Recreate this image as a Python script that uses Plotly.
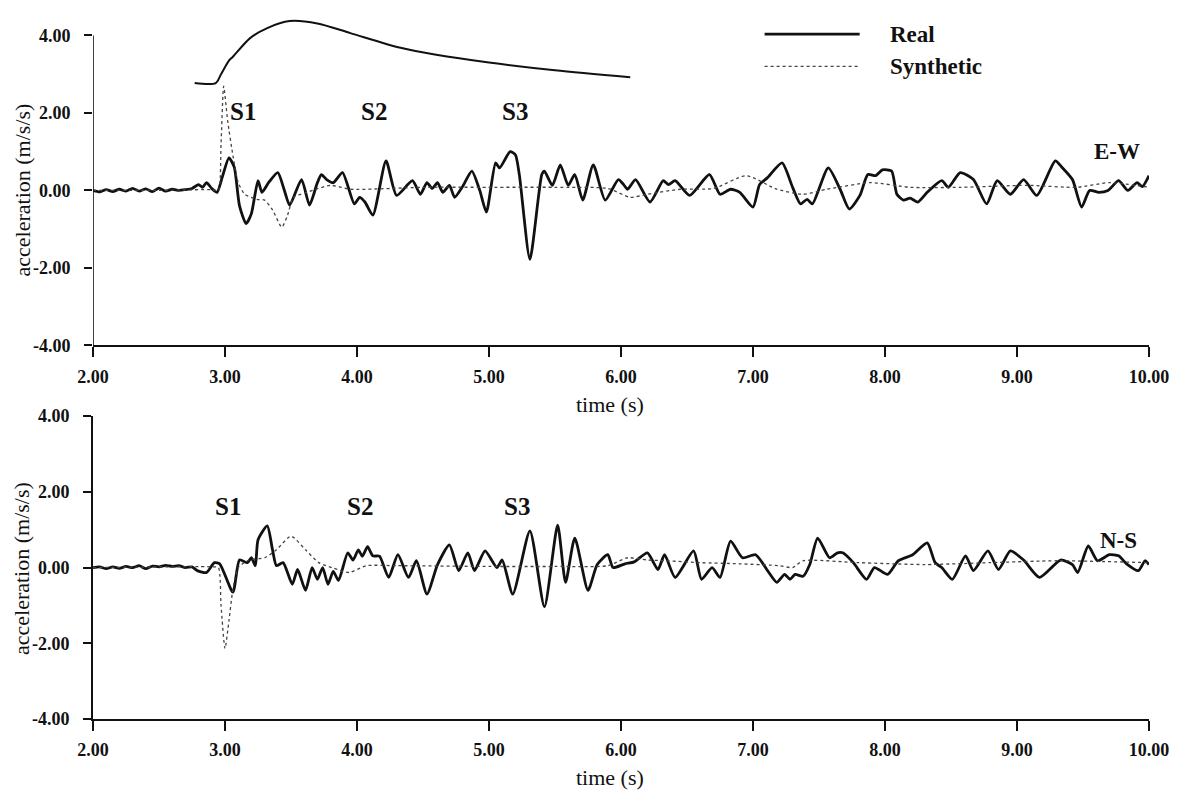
import plotly.graph_objects as go
from plotly.subplots import make_subplots

# ---- E-W component -------------------------------------------------------
ew_real_t = [2.00, 2.05, 2.10, 2.15, 2.20, 2.25, 2.30, 2.35, 2.40, 2.45, 2.50, 2.55,
             2.60, 2.65, 2.70, 2.75, 2.80, 2.83, 2.86, 2.90, 2.94, 2.98, 3.03, 3.07,
             3.11, 3.16, 3.20, 3.25, 3.28, 3.33, 3.40, 3.45, 3.49, 3.58, 3.64, 3.70,
             3.73, 3.77, 3.82, 3.89, 3.98, 4.02, 4.06, 4.12, 4.22, 4.30, 4.42, 4.48,
             4.53, 4.57, 4.61, 4.65, 4.70, 4.74, 4.80, 4.87, 4.93, 4.98, 5.05, 5.08,
             5.16, 5.20, 5.23, 5.31, 5.40, 5.42, 5.48, 5.54, 5.60, 5.65, 5.71, 5.79,
             5.88, 5.98, 6.02, 6.05, 6.11, 6.22, 6.32, 6.36, 6.41, 6.52, 6.67, 6.75,
             6.83, 6.90, 7.00, 7.05, 7.11, 7.22, 7.30, 7.36, 7.41, 7.45, 7.57, 7.66,
             7.73, 7.81, 7.87, 7.93, 7.98, 8.05, 8.09, 8.14, 8.19, 8.25, 8.32, 8.43,
             8.48, 8.57, 8.67, 8.77, 8.85, 8.95, 9.05, 9.15, 9.29, 9.34, 9.42, 9.49,
             9.55, 9.62, 9.69, 9.77, 9.84, 9.91, 9.95, 10.00]
ew_real_v = [0.00, -0.04, 0.02, -0.03, 0.03, -0.02, 0.05, -0.02, 0.04, -0.03, 0.06, -0.02,
             0.03, 0.00, 0.02, 0.05, 0.15, 0.08, 0.20, 0.05, -0.05, 0.35, 0.84, 0.60,
             -0.40, -0.86, -0.60, 0.25, -0.05, 0.20, 0.46, 0.00, -0.38, 0.28, -0.38, 0.20,
             0.41, 0.28, 0.20, 0.46, -0.35, -0.18, -0.30, -0.64, 0.76, -0.13, 0.25, -0.10,
             0.20, 0.05, 0.20, -0.05, 0.13, -0.18, 0.10, 0.50, 0.00, -0.56, 0.71, 0.58,
             1.00, 0.92, 0.40, -1.78, 0.41, 0.50, 0.13, 0.66, 0.13, 0.41, -0.25, 0.66,
             -0.25, 0.28, 0.15, 0.03, 0.28, -0.30, 0.25, 0.15, 0.25, -0.13, 0.41, -0.10,
             0.03, -0.05, -0.43, 0.15, 0.33, 0.71, 0.08, -0.35, -0.23, -0.35, 0.58, 0.03,
             -0.48, -0.13, 0.41, 0.38, 0.53, 0.50, -0.10, -0.25, -0.20, -0.30, -0.05, 0.25,
             0.08, 0.46, 0.28, -0.35, 0.25, -0.10, 0.28, -0.13, 0.76, 0.60, 0.28, -0.43,
             0.00, -0.05, 0.00, 0.25, 0.00, 0.20, 0.10, 0.38]

ew_syn_t = [2.00, 2.50, 2.90, 2.95, 2.97, 2.99, 3.02, 3.06, 3.10, 3.15, 3.24, 3.30,
            3.36, 3.43, 3.47, 3.52, 3.62, 3.80, 3.95, 4.50, 5.00, 5.50, 5.90, 6.07,
            6.20, 6.45, 6.70, 6.95, 7.18, 7.38, 7.56, 7.89, 8.19, 8.57, 9.08, 9.45,
            9.70, 10.00]
ew_syn_v = [0.00, 0.00, 0.02, 0.00, 1.20, 2.69, 1.80, 0.90, 0.20, -0.10, -0.23, -0.25,
            -0.50, -0.95, -0.68, -0.18, -0.05, 0.13, 0.03, 0.08, 0.08, 0.08, 0.05, -0.18,
            -0.10, 0.03, 0.05, 0.38, 0.03, -0.10, 0.03, 0.20, 0.08, 0.08, 0.13, 0.08,
            0.20, 0.08]

# source time function drawn above the E-W traces (same time axis)
stf_t = [2.77, 2.93, 2.97, 3.03, 3.06, 3.19, 3.32, 3.49, 3.70, 3.95, 4.33, 4.60,
         5.00, 5.50, 6.07]
stf_v = [2.77, 2.77, 3.00, 3.35, 3.45, 3.93, 4.19, 4.37, 4.31, 4.06, 3.68, 3.50,
         3.30, 3.10, 2.92]

# ---- N-S component -------------------------------------------------------
ns_real_t = [2.00, 2.05, 2.10, 2.15, 2.20, 2.25, 2.30, 2.35, 2.40, 2.45, 2.50, 2.55,
             2.60, 2.65, 2.70, 2.75, 2.79, 2.86, 2.92, 2.96, 3.06, 3.11, 3.17, 3.20,
             3.23, 3.25, 3.32, 3.36, 3.39, 3.44, 3.51, 3.55, 3.61, 3.66, 3.70, 3.74,
             3.78, 3.82, 3.86, 3.93, 3.97, 4.01, 4.04, 4.08, 4.12, 4.17, 4.24, 4.31,
             4.39, 4.45, 4.53, 4.61, 4.70, 4.77, 4.84, 4.89, 4.97, 5.06, 5.10, 5.18,
             5.31, 5.42, 5.52, 5.58, 5.65, 5.75, 5.82, 5.90, 5.94, 6.03, 6.10, 6.20,
             6.28, 6.33, 6.41, 6.55, 6.61, 6.69, 6.75, 6.83, 6.92, 7.02, 7.11, 7.18,
             7.24, 7.28, 7.32, 7.38, 7.43, 7.49, 7.58, 7.64, 7.68, 7.76, 7.86, 7.92,
             8.02, 8.10, 8.21, 8.32, 8.38, 8.43, 8.51, 8.61, 8.67, 8.78, 8.86, 8.95,
             9.05, 9.17, 9.33, 9.42, 9.46, 9.54, 9.61, 9.70, 9.77, 9.83, 9.92, 9.97,
             10.00]
ns_real_v = [0.00, 0.02, -0.03, 0.02, -0.02, 0.03, 0.00, 0.05, -0.03, 0.04, 0.02, 0.06,
             0.03, 0.05, 0.00, 0.02, -0.08, -0.13, 0.13, 0.10, -0.65, 0.20, 0.13, 0.26,
             0.05, 0.73, 1.10, 0.47, 0.05, 0.13, -0.44, -0.05, -0.60, 0.00, -0.31, 0.00,
             -0.44, -0.10, -0.34, 0.39, 0.20, 0.47, 0.30, 0.55, 0.31, 0.30, -0.26, 0.34,
             -0.26, 0.18, -0.70, 0.08, 0.60, -0.08, 0.39, -0.08, 0.44, 0.00, 0.20, -0.70,
             0.97, -1.04, 1.12, -0.39, 0.78, -0.60, 0.08, 0.34, 0.00, 0.10, 0.15, 0.39,
             -0.05, 0.34, -0.26, 0.44, -0.31, 0.00, -0.26, 0.70, 0.26, 0.34, -0.08, -0.39,
             -0.18, -0.31, -0.18, -0.23, 0.08, 0.78, 0.26, 0.39, 0.39, 0.13, -0.31, 0.00,
             -0.18, 0.18, 0.34, 0.65, 0.13, 0.00, -0.31, 0.31, -0.08, 0.44, -0.05, 0.44,
             0.20, -0.26, 0.20, 0.08, -0.13, 0.57, 0.18, 0.34, 0.31, 0.10, -0.08, 0.18,
             0.08]

ns_syn_t = [2.00, 2.90, 2.95, 2.97, 3.00, 3.03, 3.06, 3.10, 3.18, 3.30, 3.39, 3.50,
            3.61, 3.71, 3.81, 3.94, 4.07, 4.30, 5.00, 5.50, 5.90, 6.05, 6.20, 6.35,
            6.60, 6.90, 7.20, 7.30, 7.38, 7.80, 8.30, 8.80, 9.30, 10.00]
ns_syn_v = [0.00, 0.02, 0.00, -1.00, -2.14, -1.40, -0.57, 0.00, 0.20, 0.26, 0.47, 0.83,
            0.47, 0.13, 0.00, -0.13, 0.05, 0.05, 0.03, 0.03, 0.05, 0.26, 0.20, 0.18,
            0.13, 0.10, 0.05, 0.00, 0.18, 0.13, 0.08, 0.13, 0.18, 0.13]

# ---- axes / labels -------------------------------------------------------
x_ticks = [2, 3, 4, 5, 6, 7, 8, 9, 10]
y_ticks = [-4, -2, 0, 2, 4]
phase_labels = ["S1", "S2", "S3"]
ew_phase_t = [3.14, 4.13, 5.20]
ns_phase_t = [3.02, 4.02, 5.21]
component_names = ["E-W", "N-S"]
series_names = ["Real", "Synthetic"]

SERIF = "Liberation Serif, Times New Roman, serif"
INK = "#111111"

fig = make_subplots(rows=2, cols=1, shared_xaxes=False, vertical_spacing=0.0)

real_line = dict(color=INK, width=2.8, shape="spline", smoothing=0.6)
syn_line = dict(color="#444444", width=1.3, dash="dot", shape="spline", smoothing=0.6)

fig.add_trace(go.Scatter(x=ew_real_t, y=ew_real_v, mode="lines", line=real_line,
                         name=series_names[0], showlegend=False), row=1, col=1)
fig.add_trace(go.Scatter(x=ew_syn_t, y=ew_syn_v, mode="lines", line=syn_line,
                         name=series_names[1], showlegend=False), row=1, col=1)
fig.add_trace(go.Scatter(x=stf_t, y=stf_v, mode="lines",
                         line=dict(color=INK, width=2.0, shape="spline", smoothing=0.8),
                         showlegend=False), row=1, col=1)
fig.add_trace(go.Scatter(x=ns_real_t, y=ns_real_v, mode="lines", line=real_line,
                         showlegend=False), row=2, col=1)
fig.add_trace(go.Scatter(x=ns_syn_t, y=ns_syn_v, mode="lines", line=syn_line,
                         showlegend=False), row=2, col=1)

# hyphen-minus labels with two decimals
x_tick_text = [f"{v:.2f}" for v in x_ticks]
y_tick_text = [f"{v:.2f}" for v in y_ticks]

tick_font = dict(family=SERIF, size=18, color=INK, weight="bold")
xaxis_style = dict(range=[2, 10], tickvals=x_ticks, ticktext=x_tick_text, ticks="outside",
                   ticklen=10, tickwidth=1.6, tickcolor=INK, showline=True, linewidth=1.6,
                   linecolor=INK, showgrid=False, zeroline=False, tickfont=tick_font,
                   ticklabelstandoff=4)
yaxis_style = dict(tickvals=y_ticks, ticktext=y_tick_text, ticks="outside", ticklen=8,
                   tickwidth=1.6, tickcolor=INK, linewidth=1.6, linecolor=INK,
                   showgrid=False, zeroline=False, tickfont=tick_font,
                   ticklabelstandoff=10)

fig.update_layout(
    xaxis=dict(**xaxis_style, domain=[0, 1], anchor="y"),
    yaxis=dict(**yaxis_style, range=[-4, 4.45], showline=False, domain=[0.533, 1.0]),
    xaxis2=dict(**xaxis_style, domain=[0, 1], anchor="y2"),
    yaxis2=dict(**yaxis_style, range=[-4, 4], showline=True, domain=[0.0, 0.432]),
)

shapes = [
    # vertical axis line of the E-W panel (stops at 4.00, the source pulse sits above)
    dict(type="line", xref="x", yref="y", x0=2, x1=2, y0=-4, y1=4,
         line=dict(color=INK, width=1.6)),
    # legend samples
    dict(type="line", xref="paper", yref="paper", x0=0.636, x1=0.726, y0=0.977, y1=0.977,
         line=dict(color=INK, width=2.8)),
    dict(type="line", xref="paper", yref="paper", x0=0.636, x1=0.726, y0=0.931, y1=0.931,
         line=dict(color="#444444", width=1.3, dash="dot")),
]

label_font = dict(family=SERIF, size=25, color=INK, weight="bold")
comp_font = dict(family=SERIF, size=23, color=INK, weight="bold")
annotations = []
for lab, t in zip(phase_labels, ew_phase_t):
    annotations.append(dict(text=lab, x=t, y=2.03, xref="x", yref="y", showarrow=False,
                            xanchor="center", yanchor="middle", font=label_font))
for lab, t in zip(phase_labels, ns_phase_t):
    annotations.append(dict(text=lab, x=t, y=1.62, xref="x2", yref="y2", showarrow=False,
                            xanchor="center", yanchor="middle", font=label_font))
annotations.append(dict(text=component_names[0], x=9.76, y=1.0, xref="x", yref="y",
                        xanchor="center", yanchor="middle", showarrow=False, font=comp_font))
annotations.append(dict(text=component_names[1], x=9.77, y=0.72, xref="x2", yref="y2",
                        xanchor="center", yanchor="middle", showarrow=False, font=comp_font))
legend_font = dict(family=SERIF, size=23, color=INK, weight="bold")
annotations.append(dict(text=series_names[0], x=0.753, y=0.977, xref="paper", yref="paper",
                        xanchor="left", yanchor="middle", showarrow=False, font=legend_font))
annotations.append(dict(text=series_names[1], x=0.753, y=0.931, xref="paper", yref="paper",
                        xanchor="left", yanchor="middle", showarrow=False, font=legend_font))

title_font = dict(family=SERIF, size=22, color=INK)
annotations.append(dict(text="acceleration (m/s/s)", x=-0.0672, y=0.754, xref="paper",
                        yref="paper", textangle=-90, xanchor="center", yanchor="middle",
                        showarrow=False, font=title_font))
annotations.append(dict(text="acceleration (m/s/s)", x=-0.0672, y=0.214, xref="paper",
                        yref="paper", textangle=-90, xanchor="center", yanchor="middle",
                        showarrow=False, font=title_font))
annotations.append(dict(text="time (s)", x=0.49, y=(719 - 400) / 711, xref="paper",
                        yref="paper", xanchor="center", yanchor="middle",
                        showarrow=False, font=title_font))
annotations.append(dict(text="time (s)", x=0.49, y=-59 / 711, xref="paper",
                        yref="paper", xanchor="center", yanchor="middle",
                        showarrow=False, font=title_font))

fig.update_layout(
    width=1184, height=791,
    margin=dict(l=93, r=35, t=8, b=72),
    paper_bgcolor="white", plot_bgcolor="white",
    showlegend=False,
    shapes=shapes,
    annotations=annotations,
)

fig.write_html("out.html")
